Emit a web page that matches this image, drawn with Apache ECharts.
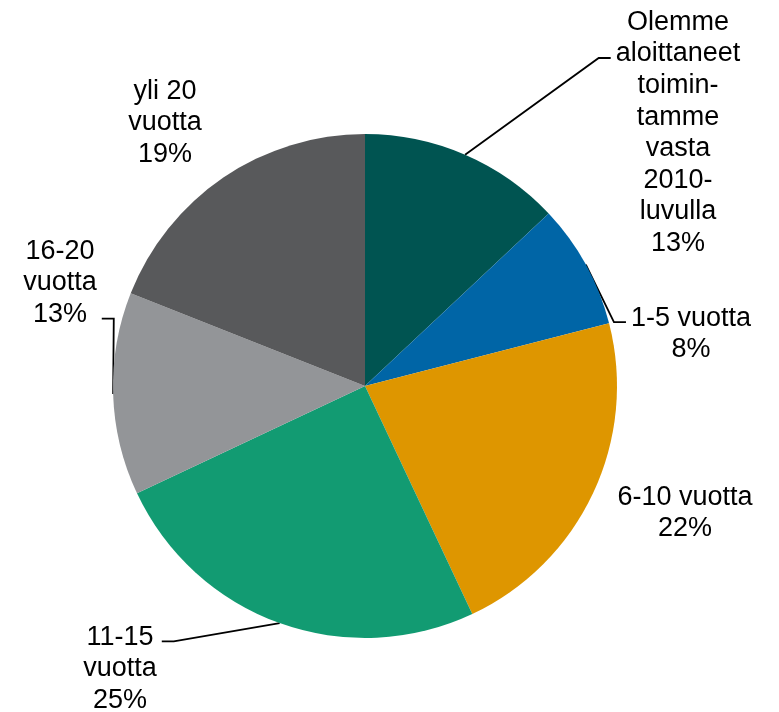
<!DOCTYPE html>
<html>
<head>
<meta charset="utf-8">
<script src="https://cdn.jsdelivr.net/npm/echarts@6/dist/echarts.min.js"></script>
<style>
  html, body { margin: 0; padding: 0; background: #fff; }
  #chart { width: 779px; height: 712px; }
</style>
</head>
<body>
<div id="chart"></div>
<script>
// categories and shares (%)
var categories = [
  'Olemme\naloittaneet\ntoimin-\ntamme\nvasta\n2010-\nluvulla',
  '1-5 vuotta',
  '6-10 vuotta',
  '11-15\nvuotta',
  '16-20\nvuotta',
  'yli 20\nvuotta'
];
var shares = [13, 8, 22, 25, 13, 19];
var colors = ['#005451', '#0065A6', '#DE9600', '#129B72', '#939598', '#58595B'];

// label block centres, and which text line the leader line points to (-1 = no line)
var labelPos = [[678, 133], [691, 334], [685, 513], [120, 669], [60, 283], [165, 123]];
var lineRow = [1, 0, -1, 0, 2, -1];

var CX = 365, CY = 386, R = 252, LH = 31.6;

var chart = echarts.init(document.getElementById('chart'));

var cum = [];
shares.reduce(function (s, v, i) { cum[i] = s; return s + v; }, 0);
var total = shares.reduce(function (a, b) { return a + b; }, 0);

var data = categories.map(function (c, i) {
  return {
    name: c,
    value: shares[i],
    itemStyle: { color: colors[i] },
    labelLine: { show: lineRow[i] >= 0 }
  };
});

chart.setOption({
  animation: false,
  series: [{
    type: 'pie',
    center: [CX, CY],
    radius: R,
    startAngle: 90,
    clockwise: true,
    data: data,
    itemStyle: { borderWidth: 0 },
    label: {
      show: true,
      position: 'outside',
      overflow: 'none',
      formatter: function (p) { return p.name + '\n' + p.value + '%'; },
      fontFamily: 'Liberation Sans, Arial, sans-serif',
      fontSize: 27,
      lineHeight: LH,
      color: '#000',
      align: 'center'
    },
    labelLine: {
      show: true,
      length: 20,
      length2: 12,
      lineStyle: { color: '#000', width: 1.8 }
    },
    labelLayout: function (p) {
      var i = p.dataIndex;
      var pos = labelPos[i];
      var out = { x: pos[0], y: pos[1], align: 'center', verticalAlign: 'middle' };
      if (lineRow[i] >= 0) {
        // leader starts on the rim at the slice's mid angle
        var a = Math.PI / 2 - 2 * Math.PI * (cum[i] + shares[i] / 2) / total;
        var p0 = [CX + R * Math.cos(a), CY - R * Math.sin(a)];
        var w = p.labelRect.width, h = p.labelRect.height;
        var rowY = pos[1] - h / 2 + (lineRow[i] + 0.5) * LH + 4;
        var right = p0[0] > pos[0];
        var ex = right ? pos[0] + w / 2 + 5 : pos[0] - w / 2 - 5;
        var p2 = [ex, rowY];
        var p1 = [right ? ex + 12 : ex - 12, rowY];
        out.labelLinePoints = [p0, p1, p2];
      }
      return out;
    }
  }]
});
</script>
</body>
</html>
